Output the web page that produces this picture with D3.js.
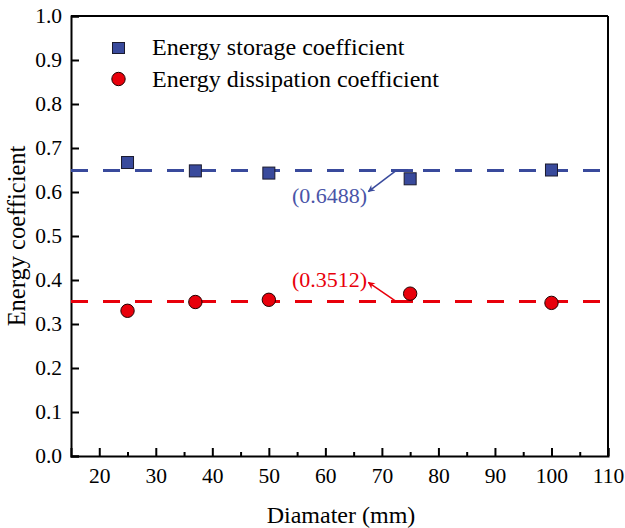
<!DOCTYPE html>
<html>
<head>
<meta charset="utf-8">
<script src="https://cdn.jsdelivr.net/npm/d3@7"></script>
<style>
  body { margin: 0; background: #fff; }
</style>
</head>
<body>
<svg id="chart" width="625" height="528"></svg>
<script>
// Chart data
const diameters = [25, 37, 50, 75, 100];
const storageCoef = [0.667, 0.648, 0.643, 0.630, 0.650];
const dissipationCoef = [0.330, 0.350, 0.355, 0.369, 0.348];
const storageMean = 0.6488;
const dissipationMean = 0.3512;
const xTicks = [20, 30, 40, 50, 60, 70, 80, 90, 100, 110];
const xMinorTicks = [25, 35, 45, 55, 65, 75, 85, 95, 105];
const yTicks = [0, 0.1, 0.2, 0.3, 0.4, 0.5, 0.6, 0.7, 0.8, 0.9, 1.0];

const FONT = 'Liberation Serif';
const BLUE = '#394a9c';
const RED = '#e8000b';

const margin = { left: 71, top: 16, right: 17, bottom: 72 };
const width = 625 - margin.left - margin.right;
const height = 528 - margin.top - margin.bottom;

const svg = d3.select('#chart');
const g = svg.append('g').attr('transform', `translate(${margin.left},${margin.top})`);

const x = d3.scaleLinear().domain([15, 110]).range([0, width]);
const y = d3.scaleLinear().domain([0, 1]).range([height, 0]);

// Axes (ticks pointing inward)
const xAxis = g.append('g').attr('transform', `translate(0,${height})`)
    .call(d3.axisBottom(x).tickValues(xTicks).tickSize(-8).tickPadding(12).tickFormat(d3.format('d')));
g.append('g').attr('transform', `translate(0,${height})`)
    .call(d3.axisBottom(x).tickValues(xMinorTicks).tickSize(-4).tickFormat(''))
    .call(a => a.select('.domain').remove());
const yAxis = g.append('g')
    .call(d3.axisLeft(y).tickValues(yTicks).tickSize(-8).tickPadding(9).tickFormat(d3.format('.1f')));

[xAxis, yAxis].forEach(a => {
    a.selectAll('text').attr('fill', '#000')
        .attr('font-family', FONT).attr('font-size', 21.5);
    a.select('.domain').attr('stroke', '#000').attr('stroke-width', 2);
});
g.selectAll('.tick line').attr('stroke', '#000').attr('stroke-width', 2);

// Top and right frame
g.append('line').attr('x1', 0).attr('x2', width).attr('y1', 0).attr('y2', 0)
    .attr('stroke', '#000').attr('stroke-width', 2);
g.append('line').attr('x1', width).attr('x2', width).attr('y1', 0).attr('y2', height)
    .attr('stroke', '#000').attr('stroke-width', 2);

// Mean dashed lines
const means = [
    { value: storageMean, color: BLUE },
    { value: dissipationMean, color: RED },
];
g.selectAll('.mean').data(means).enter().append('line')
    .attr('class', 'mean')
    .attr('x1', 0).attr('x2', width)
    .attr('y1', d => y(d.value)).attr('y2', d => y(d.value))
    .attr('stroke', d => d.color).attr('stroke-width', 3)
    .attr('stroke-dasharray', '17 15');

// Arrows + labels
const defs = svg.append('defs');
[['arrowBlue', BLUE], ['arrowRed', RED]].forEach(([id, c]) => {
    defs.append('marker').attr('id', id).attr('viewBox', '0 0 10 10')
        .attr('refX', 9).attr('refY', 5).attr('markerWidth', 9).attr('markerHeight', 7)
        .attr('markerUnits', 'userSpaceOnUse').attr('orient', 'auto')
        .append('path').attr('d', 'M0,0 L10,5 L0,10 L3,5 Z').attr('fill', c);
});

// short solid segment where each arrow starts
means.forEach(m => {
    g.append('line').attr('x1', x(72.5)).attr('x2', x(75.5))
        .attr('y1', y(m.value)).attr('y2', y(m.value))
        .attr('stroke', m.color).attr('stroke-width', 3);
});

g.append('line').attr('x1', x(72.5)).attr('y1', y(storageMean))
    .attr('x2', x(67.6)).attr('y2', y(storageMean) + 21)
    .attr('stroke', BLUE).attr('stroke-width', 1.5).attr('marker-end', 'url(#arrowBlue)');
g.append('line').attr('x1', x(72.5)).attr('y1', y(dissipationMean))
    .attr('x2', x(67.6)).attr('y2', y(dissipationMean) - 19)
    .attr('stroke', RED).attr('stroke-width', 1.5).attr('marker-end', 'url(#arrowRed)');

g.append('text').attr('x', x(67.4)).attr('y', y(storageMean) + 32.5)
    .attr('font-family', FONT).attr('text-anchor', 'end').attr('font-size', 22).attr('fill', '#4a55a8')
    .text(`(${storageMean.toFixed(4)})`);
g.append('text').attr('x', x(67.4)).attr('y', y(dissipationMean) - 14)
    .attr('font-family', FONT).attr('text-anchor', 'end').attr('font-size', 22).attr('fill', RED)
    .text(`(${dissipationMean.toFixed(4)})`);

// Points
const sq = 12;
g.selectAll('.sq').data(diameters).enter().append('rect')
    .attr('class', 'sq')
    .attr('x', d => x(d) - sq / 2)
    .attr('y', (d, i) => y(storageCoef[i]) - sq / 2)
    .attr('width', sq).attr('height', sq)
    .attr('fill', BLUE).attr('stroke', '#1a1a2e').attr('stroke-width', 1);

g.selectAll('.ci').data(diameters).enter().append('circle')
    .attr('class', 'ci')
    .attr('cx', d => x(d))
    .attr('cy', (d, i) => y(dissipationCoef[i]))
    .attr('r', 6.7)
    .attr('fill', RED).attr('stroke', '#200').attr('stroke-width', 1);

// Legend
const legend = svg.append('g');
legend.append('rect').attr('x', 112.5).attr('y', 42.5).attr('width', 12).attr('height', 11)
    .attr('fill', BLUE).attr('stroke', '#1a1a2e').attr('stroke-width', 1);
legend.append('text').attr('x', 152).attr('y', 55).attr('font-size', 24)
    .attr('font-family', FONT).text('Energy storage coefficient');
legend.append('circle').attr('cx', 118.5).attr('cy', 79).attr('r', 6.7)
    .attr('fill', RED).attr('stroke', '#200').attr('stroke-width', 1);
legend.append('text').attr('x', 152).attr('y', 86.5).attr('font-size', 24)
    .attr('font-family', FONT).text('Energy dissipation coefficient');

// Axis titles
svg.append('text').attr('x', 341).attr('y', 523).attr('text-anchor', 'middle')
    .attr('font-family', FONT).attr('font-size', 24).text('Diamater (mm)');
svg.append('text').attr('transform', 'translate(25,236) rotate(-90)')
    .attr('font-family', FONT).attr('text-anchor', 'middle').attr('font-size', 24.5).text('Energy coefficient');
</script>
</body>
</html>
